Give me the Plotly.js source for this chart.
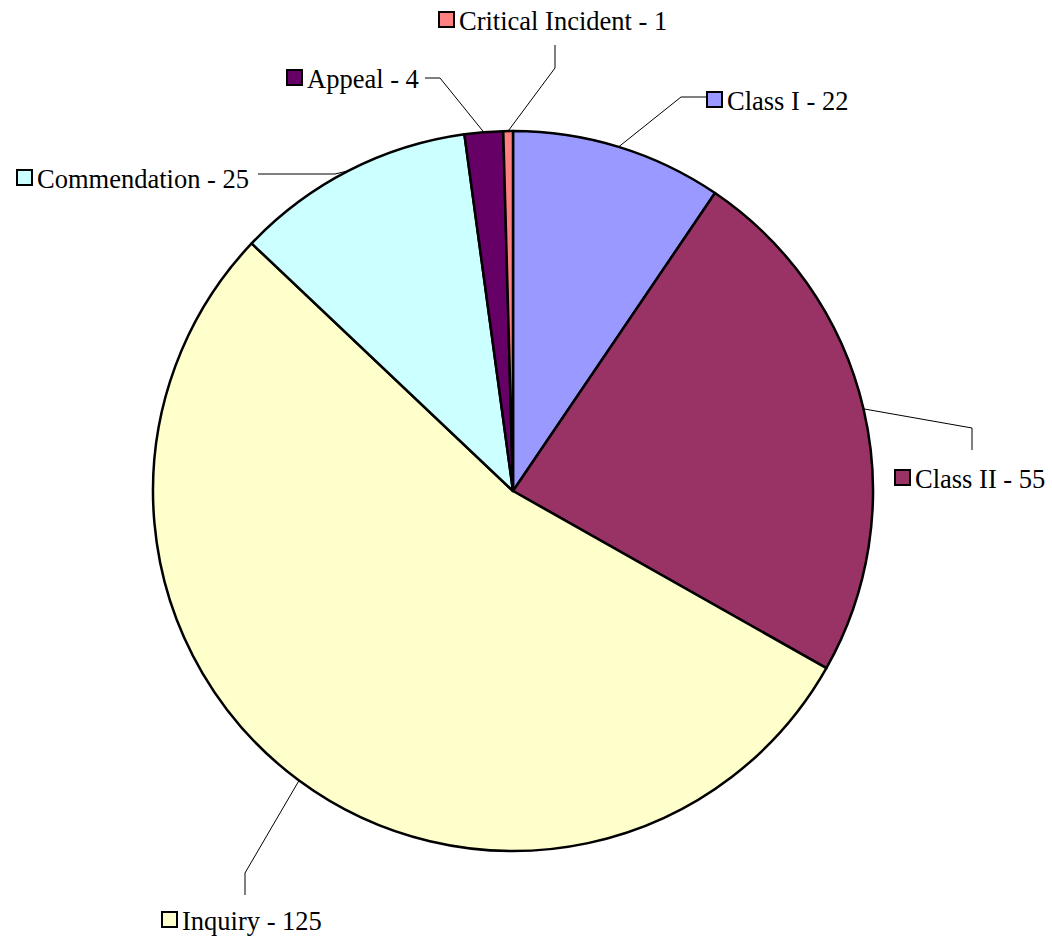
<!DOCTYPE html>
<html>
<head>
<meta charset="utf-8">
<script src="https://cdn.plot.ly/plotly-3.0.1.min.js"></script>
<style>html,body{margin:0;padding:0;background:#fff;}#chart{width:1052px;height:944px;}</style>
</head>
<body>
<div id="chart"></div>
<script>
// ---- data ----
const categories = ["Class I", "Class II", "Inquiry", "Commendation", "Appeal", "Critical Incident"];
const counts = [22, 55, 125, 25, 4, 1];
const colors = ["#9999FF", "#993366", "#FFFFCC", "#CCFFFF", "#660066", "#FF8080"];

// ---- layout constants (pixels) ----
const W = 1052, H = 944;
const CX = 513, CY = 491, R = 360;
// label placement: text left x, text center y, elbow point, line start point
const labelPos = [
  {tx: 728, ty: 100, start: [706, 97], elbow: [681, 97]},
  {tx: 916, ty: 478, start: [972, 450], elbow: [972, 428]},
  {tx: 183, ty: 920, start: [245, 895], elbow: [245, 873]},
  {tx: 38,  ty: 178, start: [258, 174], elbow: [335, 174]},
  {tx: 308, ty: 78,  start: [425, 78],  elbow: [440, 78]},
  {tx: 460, ty: 20,  start: [555, 45],  elbow: [555, 68]}
];
const px = x => x / W;
const py = y => 1 - y / H;

const total = counts.reduce((a, b) => a + b, 0);
const annotations = [];
const shapes = [];
let cum = 0;
counts.forEach((v, i) => {
  const mid = (cum + v / 2) / total * 2 * Math.PI;
  cum += v;
  const ex = CX + R * Math.sin(mid), ey = CY - R * Math.cos(mid);
  const L = labelPos[i];
  shapes.push({type: "path", xref: "paper", yref: "paper",
    path: `M ${px(L.start[0])} ${py(L.start[1])} L ${px(L.elbow[0])} ${py(L.elbow[1])} L ${px(ex)} ${py(ey)}`,
    line: {color: "#000", width: 1}});
  shapes.push({type: "rect", xref: "paper", yref: "paper",
    x0: px(L.tx - 21), x1: px(L.tx - 6), y0: py(L.ty - 8), y1: py(L.ty + 7),
    fillcolor: colors[i], line: {color: "#000", width: 2}});
  annotations.push({xref: "paper", yref: "paper", x: px(L.tx - 3), y: py(L.ty + 1),
    xanchor: "left", yanchor: "middle", showarrow: false,
    text: categories[i] + " - " + v,
    font: {family: "Liberation Serif", size: 26.5, color: "#000"}});
});

const trace = {
  type: "pie", values: counts, labels: categories, sort: false, direction: "clockwise",
  rotation: 0, textinfo: "none", hoverinfo: "label+value",
  marker: {colors: colors, line: {color: "#000", width: 2.5}},
  domain: {x: [px(CX - R), px(CX + R)], y: [py(CY + R), py(CY - R)]}
};

Plotly.newPlot("chart", [trace], {
  width: W, height: H, margin: {l: 0, r: 0, t: 0, b: 0},
  showlegend: false, paper_bgcolor: "#fff",
  font: {family: "Liberation Serif"},
  annotations: annotations, shapes: shapes
}, {displayModeBar: false, staticPlot: true});
</script>
</body>
</html>
